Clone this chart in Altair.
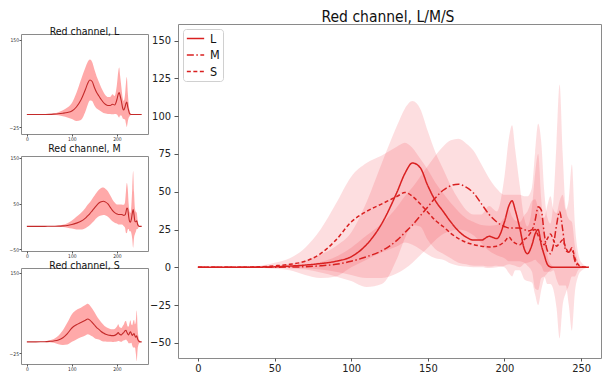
import altair as alt
import pandas as pd

# ---- data ----
x = [0, 10, 20, 30, 40, 50, 60, 70, 80, 90, 100, 110, 120, 130,
     135, 140, 145, 150, 155, 160, 165, 170, 175, 180, 185, 190, 195, 200,
     203, 205, 207, 210, 213, 215, 218, 220,
     222, 224, 226, 228, 230, 232, 234, 236, 238, 240, 242, 244, 246, 248, 250,
     255]

l_mean = [0, 0, 0, 0, 0.1, 0.3, 0.8, 1.5, 2.5, 4, 7, 15, 29, 50,
          62, 69, 66, 54, 44, 37, 30, 24, 20, 18, 18, 20.5, 19, 30,
          41, 44, 38, 26, 12, 9, 15, 22,
          25, 15, 8, 2, 0.3, 0, 0, 0, 0, 0, 0, 0, 0, 0, 0,
          0]
l_std = [0, 0, 0, 0, 0.2, 0.5, 1.5, 3, 6, 10, 16, 28, 40, 44,
         43, 41, 39, 36, 32, 28, 24, 21, 18, 17, 17, 20, 18, 30,
         45, 50, 40, 28, 20, 18, 25, 40,
         50, 30, 15, 6, 2, 0.5, 0, 0, 0, 0, 0, 0, 0, 0, 0,
         0]

m_mean = [0, 0, 0, 0, 0, 0.1, 0.2, 0.4, 1, 2, 4, 7, 11, 18,
          23, 28, 34, 40, 46, 51, 54, 55, 53, 49, 42, 35, 30, 27,
          26, 26, 26, 26, 25, 24, 25, 31,
          40, 38, 22, 11, 9, 15, 28, 37, 25, 11, 10, 12, 4, 1, 0,
          0]
m_std = [0, 0, 0, 0, 0, 0.2, 0.5, 1, 2.5, 5, 9, 14, 18, 22,
         24, 25, 26, 27, 28, 29, 30, 30, 29, 28, 26, 24, 22, 21,
         22, 22, 22, 22, 22, 23, 28, 45,
         55, 45, 28, 22, 20, 30, 55, 84, 50, 28, 22, 18, 10, 3, 0.5,
         0]

s_mean = [0, 0, 0, 0.1, 0.3, 1, 2, 4, 9, 18, 30, 37, 42, 47,
          49.5, 47, 42, 36.5, 31, 27, 22.5, 19, 16.5, 15, 14, 13.5, 14, 17,
          20, 17.5, 16, 15, 18.5, 20, 24, 25,
          21, 17, 15, 19, 22, 18, 14, 16, 18, 13, 10, 13, 6, 2, 0.5,
          0]
s_std = [0, 0, 0, 0.2, 0.6, 2, 4, 9, 16, 24, 30, 32, 32, 33,
         33, 32, 30, 28, 25, 22, 20, 18, 16, 15, 14, 14, 14, 16,
         18, 16, 15, 15, 16, 17, 20, 20,
         18, 16, 18, 22, 25, 20, 22, 28, 30, 25, 35, 55, 22, 8, 3,
         0]

series_names = ["L", "M", "S"]
x_ticks = [0, 50, 100, 150, 200, 250]
y_ticks = [-50, -25, 0, 25, 50, 75, 100, 125, 150]

FONT = "Liberation Sans Narrow, DejaVu Sans Condensed, Liberation Sans, sans-serif"
LINE_RED = "#d92020"


def make_df(name, mean, std):
    return pd.DataFrame({
        "x": x,
        "mean": mean,
        "lo": [m - s for m, s in zip(mean, std)],
        "hi": [m + s for m, s in zip(mean, std)],
        "series": name,
    })


dfs = {
    "L": make_df("L", l_mean, l_std),
    "M": make_df("M", m_mean, m_std),
    "S": make_df("S", s_mean, s_std),
}


def small_panel(name, ydom, h, title_offset):
    base = alt.Chart(dfs[name])
    xa = alt.X("x:Q", scale=alt.Scale(domain=[-13, 269], nice=False, zero=False),
               axis=alt.Axis(title=None, values=x_ticks, labelFontSize=5, tickSize=2,
                             labelPadding=0, labelFont=FONT, labelColor="#333",
                             domain=False, grid=False, tickColor="#555",
                             labelOverlap=False, labelFlush=False))
    ya = alt.Y("lo:Q", scale=alt.Scale(domain=ydom, nice=False, zero=False),
               axis=alt.Axis(title=None, values=[v for v in y_ticks if ydom[0] <= v <= ydom[1]],
                             labelFontSize=5, tickSize=2, labelPadding=0.5, labelFont=FONT,
                             labelColor="#333", domain=False, grid=False,
                             tickColor="#555", labelOverlap=False, labelFlush=False))
    band = base.mark_area(color="#ff3333", opacity=0.42, interpolate="monotone", clip=True).encode(
        x=xa, y=ya, y2="hi:Q")
    line = base.mark_line(color="#c42a2a", strokeWidth=1.1, interpolate="monotone", clip=True).encode(
        x="x:Q", y="mean:Q")
    return alt.layer(band, line).properties(
        width=127, height=h,
        title=alt.TitleParams(f"Red channel, {name}", fontSize=10.5, font=FONT,
                              fontWeight="normal", color="#111", offset=title_offset))


spacer = alt.Chart(pd.DataFrame({"a": [0]})).mark_rect(opacity=0).encode(
    x=alt.value(0), x2=alt.value(1), y=alt.value(0), y2=alt.value(0.5)
).properties(width=1, height=0.5, view=alt.ViewBackground(strokeOpacity=0))

left = alt.vconcat(
    spacer,
    small_panel("L", [-39, 161], 100, -3),
    small_panel("M", [-54, 154], 95, 1),
    small_panel("S", [-48, 160], 96, -3),
    spacing=1,
)

big_df = pd.concat([dfs[n] for n in series_names], ignore_index=True)
bx = alt.X("x:Q", scale=alt.Scale(domain=[-13, 263], nice=False, zero=False),
           axis=alt.Axis(title=None, values=x_ticks, labelFontSize=11, tickSize=3,
                         labelPadding=1.5, labelFont=FONT, labelColor="#222", domain=False,
                         grid=False, tickColor="#555"))
by = alt.Y("lo:Q", scale=alt.Scale(domain=[-60, 161], nice=False, zero=False),
           axis=alt.Axis(title=None, values=y_ticks, labelFontSize=11, tickSize=4,
                         labelPadding=3.5, labelFont=FONT, labelColor="#222", domain=False,
                         grid=False, tickColor="#555"))

bands = alt.Chart(big_df).mark_area(color="#f23a48", opacity=0.17, interpolate="monotone",
                                     clip=True).encode(
    x=bx, y=by, y2="hi:Q", detail="series:N")

leg = alt.Legend(title=None, orient="top-left", offset=5, fillColor="white",
                 strokeColor="#d0d0d0", padding=3, cornerRadius=3, symbolType="stroke",
                 symbolSize=300, symbolStrokeWidth=1.5, labelFontSize=12.5, labelFont=FONT,
                 labelColor="#111", rowPadding=3.5, labelOffset=5, clipHeight=13)

lines = alt.Chart(big_df).mark_line(strokeWidth=1.5, interpolate="monotone", clip=True).encode(
    x="x:Q",
    y="mean:Q",
    color=alt.Color("series:N", scale=alt.Scale(domain=series_names, range=[LINE_RED] * 3),
                    legend=leg),
    strokeDash=alt.StrokeDash("series:N",
                              scale=alt.Scale(domain=series_names,
                                              range=[[1, 0], [7, 2.5, 1.5, 2.5], [4, 2.5]]),
                              legend=leg),
)

big = alt.layer(bands, lines).properties(width=423, height=334)

chart = alt.hconcat(left, big, spacing=0).properties(
    title=alt.TitleParams("Red channel, L/M/S", fontSize=15.5, font=FONT, fontWeight="normal",
                          color="#111", anchor="middle", dx=83, offset=-2),
    padding={"top": 2, "left": 0, "right": 0, "bottom": 0},
).resolve_legend(
    color="independent", strokeDash="independent"
).configure_view(stroke="#8a8a8a", strokeWidth=1)

chart.save("out.html", embed_options={"renderer": "svg", "actions": False})
